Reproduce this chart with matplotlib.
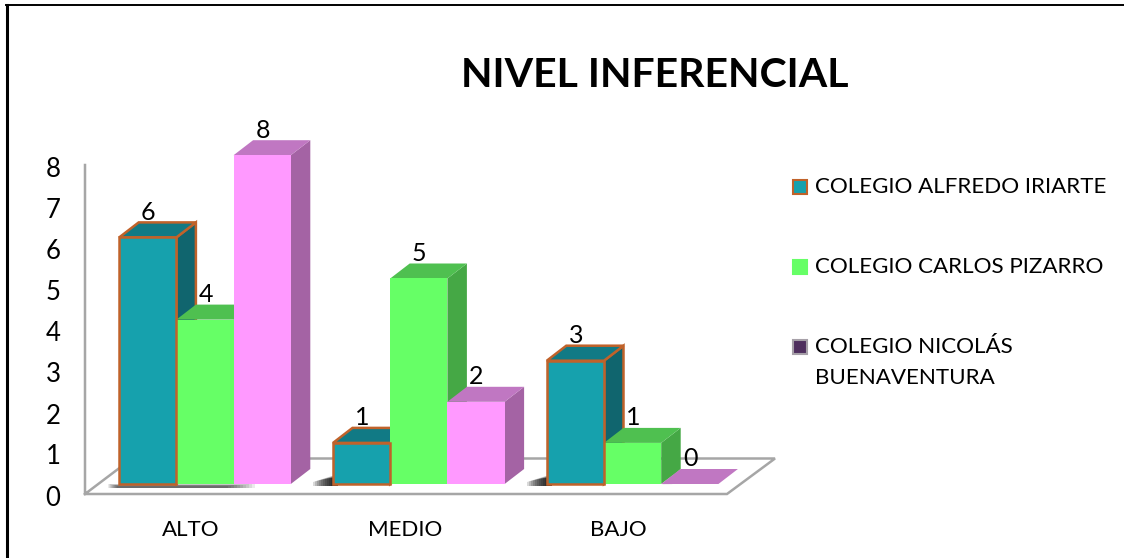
import matplotlib
matplotlib.use('Agg')
import matplotlib.pyplot as plt
import numpy as np
from matplotlib.patches import Polygon, Rectangle

plt.rcParams['font.family'] = ['Lato', 'DejaVu Sans']

categories = ['ALTO', 'MEDIO', 'BAJO']
alfredo = [6, 1, 3]
carlos = [4, 5, 1]
nicolas = [8, 2, 0]
series_names = ['COLEGIO ALFREDO IRIARTE', 'COLEGIO CARLOS PIZARRO', 'COLEGIO NICOLÁS\nBUENAVENTURA']
y_ticks = [0, 1, 2, 3, 4, 5, 6, 7, 8]

W, H = 1124, 558
# pixel scale of the chart
px_y = 41.1   # pixels for one unit
px_x = 213.8  # pixels between groups
base_y = 484  # pixel row of value 0
x0 = 205      # pixel column of first group centre
bar_w = 57.2 / px_x
dx = 19.5 / px_x
dy = 15 / px_y


def X(p):
    return (p - x0) / px_x


def Y(p):
    return (base_y - p) / px_y


fig = plt.figure(figsize=(W / 100, H / 100), dpi=100)
ax = fig.add_axes([0, 0, 1, 1])
ax.set_xlim(X(0), X(W))
ax.set_ylim(Y(H), Y(0))
ax.axis('off')

# outer frame
ax.plot([X(7), X(7)], [Y(H), Y(5.5)], color='black', lw=2.2, zorder=1)
ax.plot([X(6), X(W)], [Y(5.5), Y(5.5)], color='black', lw=1.4, zorder=1)

# floor and wall
grey = '#A6A6A6'
ax.plot([X(85), X(85), X(727), X(775), X(132), X(85)],
        [Y(165), Y(494), Y(494), Y(458.5), Y(458.5), Y(494)],
        color=grey, lw=1.8, zorder=2, solid_joinstyle='miter')

# soft shadows on the floor
for k in range(10):
    for start in (333, 547):
        ax.add_patch(Polygon([(X(start - 20 + 2 * k), Y(486)), (X(start + 5), Y(486)),
                              (X(start + 5), Y(474 + k * .5)), (X(start - 20 + 2 * k), Y(482 - k * .5))],
                             color='black', alpha=0.15, lw=0, zorder=3))
    ax.add_patch(Rectangle((X(108 + k), Y(487.5)), X(255 - 3 * k) - X(108 + k), (3.5 - k * .2) / px_y,
                           color='black', alpha=0.08, lw=0, zorder=3))
    ax.add_patch(Polygon([(X(662 + k), Y(485)), (X(700 - k), Y(469 + k * .5)), (X(670 + k), Y(469 + k * .5))],
                         color='black', alpha=0.05, lw=0, zorder=3))

series = [alfredo, carlos, nicolas]
front = ['#16A1AD', '#66FF66', '#FF99FF']
top = ['#117A85', '#4FC050', '#C077C2']
side = ['#10656E', '#45A845', '#A463A4']
edges = ['#C0622A', None, None]

x_pos = np.arange(len(categories))
for s, vals in enumerate(series):
    for c, v in enumerate(vals):
        left = x_pos[c] + (s - 1.5) * bar_w
        right = left + bar_w
        z = 10 + c * 10 + s
        ec = edges[s] if edges[s] else 'none'
        lw = 1.8 if edges[s] else 0
        ax.add_patch(Polygon([(right, 0), (right + dx, dy), (right + dx, v + dy), (right, v)],
                             facecolor=side[s], edgecolor=ec, lw=lw, zorder=z))
        ax.add_patch(Polygon([(left, v), (left + dx, v + dy), (right + dx, v + dy), (right, v)],
                             facecolor=top[s], edgecolor=ec, lw=lw, zorder=z))
        # the first series sits in front so its outline stays visible
        ax.bar(left, v, width=bar_w, align='edge', color=front[s], edgecolor=ec, lw=lw,
               zorder=z + 5 if s == 0 else z + 0.1)
        ax.text(left + bar_w / 2 + 0.5 / px_x, v + 25 / px_y, str(v), fontsize=18, ha='center', va='center',
                color='black', zorder=60)

for c, name in zip(x_pos, categories):
    ax.text(c - 14 / px_x, Y(530), name, fontsize=16, ha='center', va='center', color='black')

for t in y_ticks:
    ax.text(X(53), Y(498 - 41 * t), str(t), fontsize=18.5, ha='center', va='center', color='black')

ax.text(X(654.5), Y(76), 'NIVEL INFERENCIAL', fontsize=29.5, fontweight='bold', ha='center', va='center', color='black')

# legend
leg_rows = [187, 267, 347.5]
leg_face = ['#16A1AD', '#66FF66', '#4F2F5E']
leg_edge = ['#C0622A', '#66FF66', '#A6A0A8']
for name, row, fc, ec in zip(series_names, leg_rows, leg_face, leg_edge):
    ax.add_patch(Rectangle((X(793), Y(row + 7)), 14 / px_x, 14 / px_y, facecolor=fc, edgecolor=ec, lw=1.5, zorder=5))
    ax.text(X(815.5), Y(row - 10), name, fontsize=16.1, ha='left', va='top', color='black', linespacing=1.65)

fig.savefig('out.png', dpi=100)
